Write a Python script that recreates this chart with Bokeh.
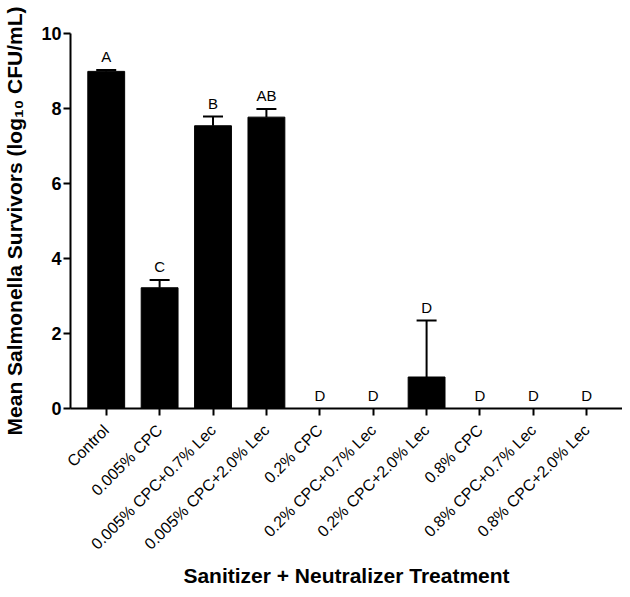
import math
from bokeh.plotting import figure
from bokeh.models import ColumnDataSource, FactorRange, Range1d, FixedTicker, Whisker, TeeHead
from bokeh.core.properties import value
from bokeh.embed import file_html
from bokeh.resources import INLINE

treatments = ["Control", "0.005% CPC", "0.005% CPC+0.7% Lec", "0.005% CPC+2.0% Lec",
              "0.2% CPC", "0.2% CPC+0.7% Lec", "0.2% CPC+2.0% Lec",
              "0.8% CPC", "0.8% CPC+0.7% Lec", "0.8% CPC+2.0% Lec"]
means = [8.99, 3.22, 7.54, 7.77, 0.0, 0.0, 0.84, 0.0, 0.0, 0.0]
errors = [0.04, 0.21, 0.25, 0.22, 0.0, 0.0, 1.51, 0.0, 0.0, 0.0]
letters = ["A", "C", "B", "AB", "D", "D", "D", "D", "D", "D"]
y_ticks = [0, 2, 4, 6, 8, 10]

FONT = "Liberation Sans"

src = ColumnDataSource(dict(
    x=treatments, top=means,
    label_y=[m + e for m, e in zip(means, errors)],
    letter=letters))

err_rows = [i for i, e in enumerate(errors) if e > 0]
err_src = ColumnDataSource(dict(
    x=[treatments[i] for i in err_rows],
    lower=[means[i] for i in err_rows],
    upper=[means[i] + errors[i] for i in err_rows]))

p = figure(x_range=FactorRange(*treatments, range_padding=0.169, range_padding_units="absolute"),
           y_range=Range1d(0, 10), width=622, height=589,
           output_backend="svg", toolbar_location=None,
           min_border_left=66, min_border_right=0, min_border_top=33, min_border_bottom=180)

p.vbar(x="x", top="top", bottom=0, width=0.69, source=src,
       fill_color="black", line_color="black")

p.add_layout(Whisker(source=err_src, base="x", lower="lower", upper="upper",
                     dimension="height", line_color="black", line_width=2,
                     upper_head=TeeHead(size=20, line_width=2, line_color="black"),
                     lower_head=None))

p.text(x="x", y="label_y", text="letter", source=src, text_align="center",
       text_baseline="alphabetic", y_offset=-13, text_font=value(FONT),
       text_font_size="15px", text_color="black")

p.xgrid.visible = False
p.ygrid.visible = False
p.outline_line_color = None

for ax in (p.xaxis, p.yaxis):
    ax.axis_line_width = 2
    ax.axis_line_color = "black"
    ax.major_tick_line_width = 2
    ax.major_tick_line_color = "black"
    ax.major_tick_out = 7
    ax.major_tick_in = 0
    ax.minor_tick_line_color = None
    ax.axis_label_text_font = FONT
    ax.axis_label_text_font_style = "bold"
    ax.axis_label_text_font_size = "21px"
    ax.axis_label_text_color = "black"
    ax.major_label_text_font = FONT
    ax.major_label_text_color = "black"

p.yaxis.ticker = FixedTicker(ticks=y_ticks)
p.yaxis.axis_label = "Mean Salmonella Survivors (log\u2081\u2080 CFU/mL)"
p.yaxis.major_label_text_font_style = "bold"
p.yaxis.major_label_text_font_size = "18px"
p.yaxis.major_label_standoff = 2
p.yaxis.axis_label_standoff = 12

p.xaxis.axis_label = "Sanitizer + Neutralizer Treatment"
p.xaxis.major_label_orientation = math.pi / 4
p.xaxis.major_label_text_font_size = "16px"
p.xaxis.major_label_standoff = 12
p.xaxis.axis_label_standoff = 2

open("out.html", "w").write(file_html(p, INLINE))
